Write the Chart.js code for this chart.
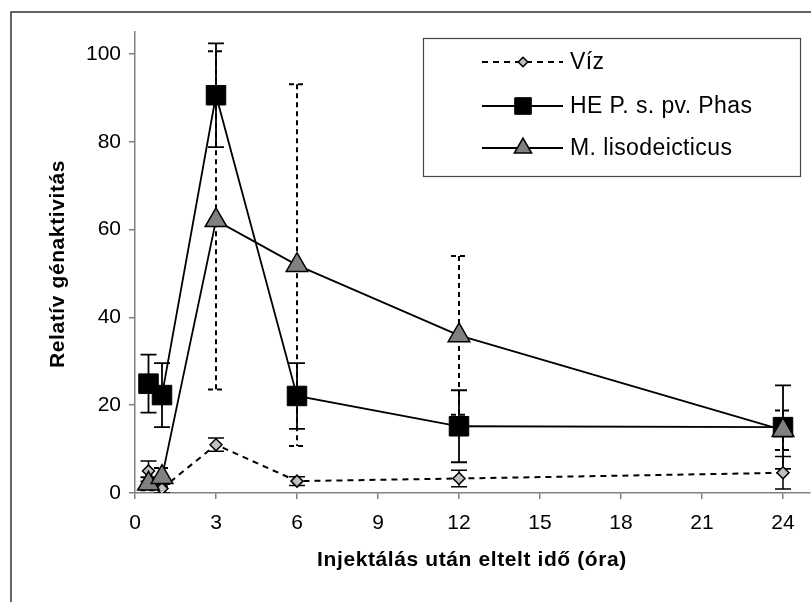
<!DOCTYPE html>
<html>
<head>
<meta charset="utf-8">
<script src="https://cdn.jsdelivr.net/npm/chart.js@4.4.0/dist/chart.umd.min.js"></script>
<style>
  html, body { margin: 0; padding: 0; background: #fff; }
  #wrap { width: 811px; height: 602px; position: relative; }
</style>
</head>
<body>
<div id="wrap"><canvas id="grafico"></canvas></div>
<script>
// Datos
const tiempos    = [0.5, 1, 3, 6, 12, 24];
const xTicks     = [0, 3, 6, 9, 12, 15, 18, 21, 24];
const yTicks     = [0, 20, 40, 60, 80, 100];

const viz        = [5.0, 1.0, 11.0, 2.7, 3.3, 4.6];
const vizErr     = [2.3, 1.0, 1.5, 1.0, 1.9, 3.7];

const hePhas     = [24.9, 22.3, 90.6, 22.1, 15.2, 15.0];
const hePhasErr  = [6.6, 7.3, 11.8, 7.5, 8.2, 9.5];

const mLiso      = [2.1, 3.6, 62.1, 51.9, 35.9, 14.3];
const mLisoErr   = [1.5, 2.1, 38.5, 41.2, 18.1, 4.5];

const FONT = "'Liberation Sans', Arial, sans-serif";

function puntos(valores){
    return tiempos.map((t, i) => ({ x: t, y: valores[i] }));
}

// Barras de error (dibujadas bajo las líneas y marcadores)
const errorBars = {
    id: 'errorBars',
    beforeDatasetsDraw(chart){
        const ctx = chart.ctx;
        const xs = chart.scales.x, ys = chart.scales.y;
        const area = chart.chartArea;
        ctx.save();
        ctx.beginPath();
        ctx.rect(area.left, area.top, area.right - area.left, area.bottom - area.top);
        ctx.clip();
        chart.data.datasets.forEach(ds => {
            if(!ds.errores) return;
            ctx.strokeStyle = '#000';
            ctx.lineWidth = ds.errorWidth;
            ctx.setLineDash(ds.errorDash);
            ds.data.forEach((p, i) => {
                const e = ds.errores[i];
                const x = xs.getPixelForValue(p.x);
                const yT = ys.getPixelForValue(p.y + e);
                const yB = ys.getPixelForValue(Math.max(0, p.y - e));
                ctx.beginPath();
                ctx.moveTo(x, yT); ctx.lineTo(x, yB);
                ctx.moveTo(x - 8, yT); ctx.lineTo(x + 8, yT);
                ctx.moveTo(x - 8, yB); ctx.lineTo(x + 8, yB);
                ctx.stroke();
            });
        });
        ctx.restore();
    }
};

// Marco, títulos de ejes y leyenda
const decoracion = {
    id: 'decoracion',
    beforeDraw(chart){
        const ctx = chart.ctx;
        ctx.save();
        ctx.fillStyle = '#fff';
        ctx.fillRect(0, 0, chart.width, chart.height);
        ctx.strokeStyle = '#333';
        ctx.lineWidth = 1.5;
        ctx.strokeRect(11, 12, chart.width + 20, chart.height + 20);
        ctx.restore();
    },
    afterDraw(chart){
        const ctx = chart.ctx;
        ctx.save();
        ctx.fillStyle = '#000';
        ctx.font = "bold 21px " + FONT;
        ctx.letterSpacing = '0.6px';
        ctx.textAlign = 'center';
        ctx.textBaseline = 'middle';
        ctx.fillText('Injektálás után eltelt idő (óra)', 472, 560);
        ctx.translate(58, 264);
        ctx.rotate(-Math.PI / 2);
        ctx.fillText('Relatív génaktivitás', 0, 0);
        ctx.restore();

        // Leyenda
        ctx.save();
        ctx.fillStyle = '#fff';
        ctx.fillRect(423, 38, 377, 138);
        ctx.strokeStyle = '#444';
        ctx.lineWidth = 1.2;
        ctx.strokeRect(423.5, 38.5, 377, 138);
        const filas = [62, 106, 148];
        chart.data.datasets.forEach((ds, i) => {
            const y = filas[i];
            ctx.strokeStyle = '#000';
            ctx.lineWidth = ds.borderWidth;
            ctx.setLineDash(ds.borderDash || []);
            ctx.beginPath();
            ctx.moveTo(482, y); ctx.lineTo(563, y);
            ctx.stroke();
            ctx.setLineDash([]);
            ctx.fillStyle = ds.pointBackgroundColor;
            ctx.strokeStyle = ds.pointBorderColor;
            ctx.lineWidth = ds.pointBorderWidth;
            Chart.helpers.drawPoint(ctx, {
                pointStyle: ds.pointStyle,
                radius: ds.pointRadius * (ds.pointStyle === 'rect' ? 0.85 : 0.8),
                borderWidth: ds.pointBorderWidth
            }, 523, y);
            ctx.fillStyle = '#000';
            ctx.font = "23px " + FONT;
            ctx.letterSpacing = '0.4px';
            ctx.textAlign = 'left';
            ctx.textBaseline = 'middle';
            ctx.fillText(ds.label, 570, y + 1);
        });
        ctx.restore();
    }
};

new Chart(document.getElementById('grafico'), {
    type: 'line',
    data: {
        datasets: [{
            label: 'Víz',
            data: puntos(viz),
            errores: vizErr,
            errorDash: [],
            errorWidth: 1.5,
            borderColor: '#000',
            borderWidth: 2,
            borderDash: [6, 5],
            pointStyle: 'rectRot',
            pointRadius: 6,
            pointBackgroundColor: '#c0c0c0',
            pointBorderColor: '#000',
            pointBorderWidth: 1.5,
            order: 2
        }, {
            label: 'HE P. s. pv. Phas',
            data: puntos(hePhas),
            errores: hePhasErr,
            errorDash: [],
            errorWidth: 1.8,
            borderColor: '#000',
            borderWidth: 1.8,
            pointStyle: 'rect',
            pointRadius: 13.8,
            pointBackgroundColor: '#000',
            pointBorderColor: '#000',
            pointBorderWidth: 1,
            order: 1
        }, {
            label: 'M. lisodeicticus',
            data: puntos(mLiso),
            errores: mLisoErr,
            errorDash: [5, 4],
            errorWidth: 2,
            borderColor: '#000',
            borderWidth: 1.8,
            pointStyle: 'triangle',
            pointRadius: 12.5,
            pointBackgroundColor: '#808080',
            pointBorderColor: '#000',
            pointBorderWidth: 1.5,
            order: 0
        }]
    },
    options: {
        responsive: true,
        maintainAspectRatio: false,
        animation: false,
        layout: { autoPadding: false, padding: { top: 32, right: 1, left: 0, bottom: 0 } },
        plugins: {
            legend:  { display: false },
            tooltip: { enabled: false }
        },
        elements: { line: { tension: 0 } },
        scales: {
            x: {
                type: 'linear',
                min: 0,
                max: 25,
                afterBuildTicks: s => { s.ticks = xTicks.map(v => ({ value: v })); },
                afterFit: s => { s.height = 109; s.paddingLeft = 0; s.paddingRight = 0; },
                grid:   { drawOnChartArea: false, color: '#808080', tickLength: 6, lineWidth: 1.5 },
                border: { color: '#808080', width: 1.5 },
                ticks:  { color: '#000', font: { family: FONT, size: 21 }, padding: 12, maxRotation: 0 }
            },
            y: {
                min: 0,
                max: 105,
                afterBuildTicks: s => { s.ticks = yTicks.map(v => ({ value: v })); },
                afterFit: s => { s.width = 135; s.paddingTop = 0; s.paddingBottom = 0; },
                grid:   { drawOnChartArea: false, color: '#808080', tickLength: 6, lineWidth: 1.5 },
                border: { color: '#808080', width: 1.5 },
                ticks:  { color: '#000', font: { family: FONT, size: 21 }, padding: 8 }
            }
        }
    },
    plugins: [errorBars, decoracion]
});
</script>
</body>
</html>
